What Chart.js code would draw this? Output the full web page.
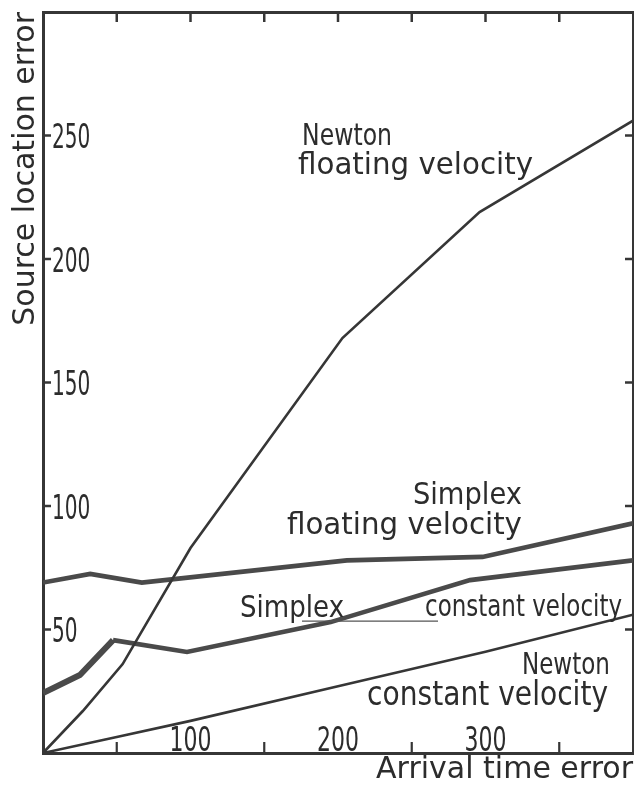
<!DOCTYPE html>
<html>
<head>
<meta charset="utf-8">
<script src="https://cdn.jsdelivr.net/npm/chart.js@4/dist/chart.umd.min.js"></script>
<style>
  html, body { margin: 0; padding: 0; background: #ffffff; }
  canvas { display: block; }
</style>
</head>
<body>
<canvas id="c" width="634" height="787"></canvas>
<script>
// ---- data ----
const newtonFloatX   = [0, 27, 54, 100, 203, 296, 400];
const newtonFloatY   = [0, 17, 36, 83, 168, 219, 256];
const simplexFloatX  = [0, 32, 67, 206, 298, 400];
const simplexFloatY  = [69, 72.5, 69, 78, 79.4, 93];
const simplexConstX  = [0, 25, 47.5, 97.6, 195, 289.5, 400];
const simplexConstY  = [24.3, 31.6, 45.7, 40.9, 53, 70, 78];
const newtonConstX   = [0, 50, 100, 200, 300, 400];
const newtonConstY   = [0, 6.5, 13, 27, 41, 56];

const xLabelValues   = [100, 200, 300];
const xLabels        = ['100', '200', '300'];
const yLabelValues   = [50, 100, 150, 200, 250];
const yLabels        = ['50', '100', '150', '200', '250'];
const topTickValues  = [50, 100, 150, 200, 250, 300, 350];
const bottomTickValues = [50, 150, 250, 350];
const rightTickValues  = [50, 100, 150, 200, 250];

const xTitle = 'Arrival time error';
const yTitle = 'Source location error';

function pts(xs, ys) { return xs.map((x, i) => ({ x: x, y: ys[i] })); }

// ---- annotation layout (text placed in data coordinates) ----
const notes = [
  { text: 'Newton',            x: 175.6, y: 246.2, size: 31, width: 90 },
  { text: 'floating velocity', x: 172.9, y: 234.4, size: 31, width: 235 },
  { text: 'Simplex',           x: 250.8, y: 100.8, size: 31, width: 109 },
  { text: 'floating velocity', x: 165.4, y: 88.7,  size: 31, width: 235 },
  { text: 'Simplex',           x: 133.6, y: 55.1,  size: 31, width: 104 },
  { text: 'constant velocity', x: 259.0, y: 55.5,  size: 31, width: 197 },
  { text: 'Newton',            x: 324.7, y: 32.0,  size: 31, width: 88 },
  { text: 'constant velocity', x: 219.7, y: 19.4,  size: 33, width: 241 }
];
const leader = { x1: 175.6, x2: 267.8, y: 53.4 };

const INK = '#2c2c2c';
const LINE = '#363636';
const THICK = '#4a4a4a';

function fitText(ctx, text, x, y, size, width, align) {
  ctx.save();
  ctx.font = size + 'px "DejaVu Sans"';
  ctx.textBaseline = 'alphabetic';
  ctx.textAlign = 'left';
  const w = ctx.measureText(text).width;
  const sx = width ? width / w : 1;
  ctx.translate(x, y);
  ctx.scale(sx, 1);
  ctx.fillText(text, align === 'center' ? -w / 2 : 0, 0);
  ctx.restore();
}

const decor = {
  id: 'decor',
  afterDatasetsDraw(chart) {
    const { ctx, chartArea: a, scales } = chart;
    const sx = scales.x, sy = scales.y;
    ctx.save();
    ctx.strokeStyle = LINE;
    ctx.lineCap = 'butt';
    function seg(x1, y1, x2, y2, w) {
      ctx.lineWidth = w;
      ctx.beginPath(); ctx.moveTo(x1, y1); ctx.lineTo(x2, y2); ctx.stroke();
    }
    topTickValues.forEach(v => { const p = sx.getPixelForValue(v); seg(p, a.top, p, a.top + 10, 2.5); });
    bottomTickValues.forEach(v => { const p = sx.getPixelForValue(v); seg(p, a.bottom - 11, p, a.bottom, 2.2); });
    yLabelValues.forEach(v => { const p = sy.getPixelForValue(v); seg(a.left, p, a.left + 8, p, 2.5); });
    rightTickValues.forEach(v => { const p = sy.getPixelForValue(v); seg(a.right - 8, p, a.right, p, 2.5); });

    ctx.fillStyle = INK;
    yLabelValues.forEach((v, i) => {
      const p = sy.getPixelForValue(v);
      const t = yLabels[i];
      fitText(ctx, t, a.left + 9, p + 12.5, 34, t.length * 12.8, 'left');
    });
    xLabelValues.forEach((v, i) => {
      const p = sx.getPixelForValue(v);
      const t = xLabels[i];
      ctx.save();
      ctx.font = '33px "DejaVu Sans"';
      const w = ctx.measureText(t).width;
      ctx.restore();
      const tw = 42;
      fitText(ctx, t, p - tw / 2, a.bottom - 2, 33, tw, 'left');
    });

    notes.forEach(n => {
      fitText(ctx, n.text, sx.getPixelForValue(n.x), sy.getPixelForValue(n.y), n.size, n.width, 'left');
    });
    ctx.strokeStyle = '#555';
    seg(sx.getPixelForValue(leader.x1), sy.getPixelForValue(leader.y),
        sx.getPixelForValue(leader.x2), sy.getPixelForValue(leader.y), 1.4);
    ctx.restore();
  }
};

const titleFont = { family: 'DejaVu Sans', size: 30, lineHeight: 1.1 };
const axisBorder = { display: true, color: LINE, width: 3 };

new Chart(document.getElementById('c').getContext('2d'), {
  type: 'line',
  data: {
    datasets: [
      { label: 'Newton floating velocity', data: pts(newtonFloatX, newtonFloatY),
        borderColor: LINE, borderWidth: 2.6, pointRadius: 0, tension: 0 },
      { label: 'Simplex floating velocity', data: pts(simplexFloatX, simplexFloatY),
        borderColor: THICK, borderWidth: 4.6, pointRadius: 0, tension: 0 },
      { label: 'Simplex constant velocity', data: pts(simplexConstX, simplexConstY),
        borderColor: THICK, borderWidth: 4.6, pointRadius: 0, tension: 0,
        segment: { borderWidth: c => (c.p1.parsed.x <= 50 ? 6 : 4.6) } },
      { label: 'Newton constant velocity', data: pts(newtonConstX, newtonConstY),
        borderColor: LINE, borderWidth: 2.6, pointRadius: 0, tension: 0 }
    ]
  },
  options: {
    responsive: false,
    animation: false,
    devicePixelRatio: 1,
    layout: { padding: { top: 12, right: 1, left: 0, bottom: 0 } },
    plugins: { legend: { display: false }, tooltip: { enabled: false } },
    scales: {
      x: {
        type: 'linear', position: 'bottom', min: 0, max: 400,
        grid: { display: false, drawTicks: false },
        ticks: { display: false },
        border: axisBorder,
        title: { display: true, text: xTitle, align: 'end', color: INK, font: titleFont, padding: { top: 1, bottom: 0 } }
      },
      y: {
        type: 'linear', position: 'left', min: 0, max: 300,
        grid: { display: false, drawTicks: false },
        ticks: { display: false },
        border: axisBorder,
        title: { display: true, text: yTitle, align: 'end', color: INK, font: titleFont, padding: { top: 10, bottom: 0 } }
      },
      x2: {
        type: 'linear', position: 'top', min: 0, max: 400,
        grid: { display: false, drawTicks: false },
        ticks: { display: false },
        border: axisBorder
      },
      y2: {
        type: 'linear', position: 'right', min: 0, max: 300,
        grid: { display: false, drawTicks: false },
        ticks: { display: false },
        border: { display: true, color: LINE, width: 2 }
      }
    }
  },
  plugins: [decor]
});
</script>
</body>
</html>
